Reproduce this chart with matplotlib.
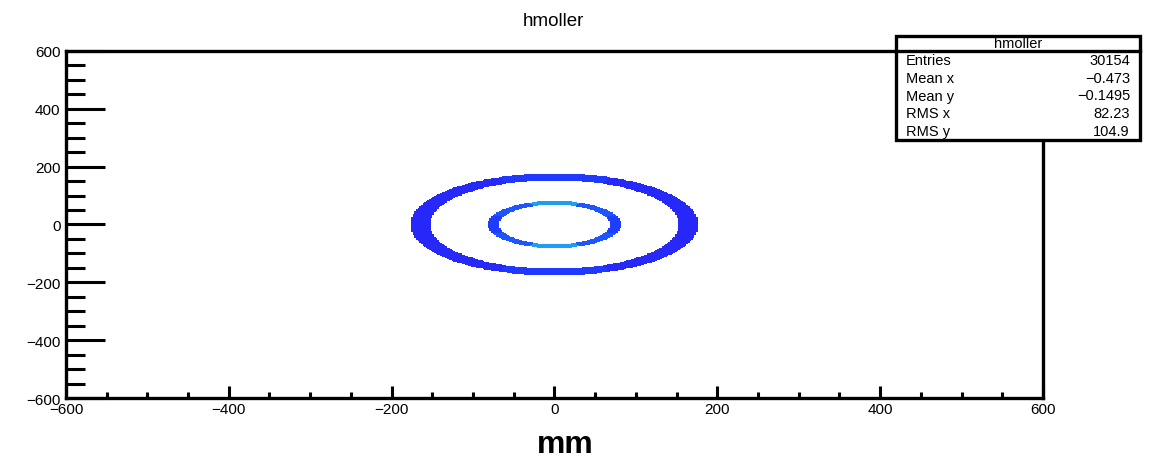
"""
hmoller: 2D hit map of moller electrons at the detector plane (ROOT colz style)
"""
import numpy as np
import matplotlib
matplotlib.use("Agg")
import matplotlib.pyplot as plt
from matplotlib.colors import LinearSegmentedColormap
from matplotlib.ticker import MultipleLocator

plt.rcParams['font.family'] = ['Liberation Sans', 'DejaVu Sans']

# histogram binning (mm)
x_range = [-600, 600]
y_range = [-600, 600]
n_bins = 600

# ring geometry (mm): inner ring, outer ring
ring_r_lo = [68, 153]
ring_r_hi = [82, 177]
ring_level = [1.6, 1.15]          # typical counts per bin

# angular weights per 45 deg sector, starting at +x, counter clockwise
sector_deg = [0, 45, 90, 135, 180, 225, 270, 315]
inner_sector_w = [1.0, 1.2, 1.75, 1.2, 1.0, 1.2, 1.75, 1.2]
outer_sector_w = [1.0, 1.05, 1.35, 1.05, 1.0, 1.05, 1.35, 1.05]

stat_names = ["Entries", "Mean x", "Mean y", "RMS x", "RMS y"]
stat_values = ["30154", "\u22120.473", "\u22120.1495", "82.23", "104.9"]

# root like rainbow palette
PALETTE = LinearSegmentedColormap.from_list(
    "root_rainbow",
    ["#3a14ee", "#2030ff", "#1c78ff", "#20c8e0", "#40e070", "#c8f020",
     "#ffc800", "#ff2000"])


def build_counts():
    """
    Fill the bin contents from the ring tables (lookup, no smoothing)
    :return: x edges, y edges, masked counts
    """
    xe = np.linspace(x_range[0], x_range[1], n_bins + 1)
    ye = np.linspace(y_range[0], y_range[1], n_bins + 1)
    xc = 0.5 * (xe[1:] + xe[:-1])
    yc = 0.5 * (ye[1:] + ye[:-1])
    X, Y = np.meshgrid(xc, yc)
    r = np.hypot(X, Y)
    phi = np.degrees(np.arctan2(Y, X)) % 360
    sector = np.round(phi / 45).astype(int) % len(sector_deg)

    counts = np.full(X.shape, np.nan)
    weights = [np.array(inner_sector_w), np.array(outer_sector_w)]
    for i in range(2):
        inside = (r >= ring_r_lo[i]) & (r <= ring_r_hi[i])
        counts[inside] = ring_level[i] * weights[i][sector[inside]]
    return xe, ye, np.ma.masked_invalid(counts)


def draw():
    fig = plt.figure(figsize=(11.49, 4.6), dpi=100)
    ax = fig.add_axes([0.0574, 0.1326, 0.8503, 0.7544])

    xe, ye, counts = build_counts()
    ax.pcolormesh(xe, ye, counts, cmap=PALETTE, vmin=0.5, vmax=7,
                  shading='flat', rasterized=True)

    ax.set_xlim(x_range)
    ax.set_ylim(y_range)

    for s in ax.spines.values():
        s.set_linewidth(2.4)

    ax.xaxis.set_major_locator(MultipleLocator(200))
    ax.xaxis.set_minor_locator(MultipleLocator(50))
    ax.yaxis.set_major_locator(MultipleLocator(200))
    ax.yaxis.set_minor_locator(MultipleLocator(50))
    ax.tick_params(axis='x', which='major', direction='in', length=9,
                   width=2.2, labelsize=11, pad=3)
    ax.tick_params(axis='x', which='minor', direction='in', length=4.5,
                   width=2.2)
    ax.tick_params(axis='y', which='major', direction='in', length=28,
                   width=2.2, labelsize=11, pad=4)
    ax.tick_params(axis='y', which='minor', direction='in', length=14,
                   width=2.2)

    # axis title and histogram title
    fig.text(565 / 1149, 1 - 445 / 460, "mm", ha='center', va='center',
             fontsize=23, fontweight='bold')
    fig.text(0.4813, 0.953, "hmoller", ha='center', va='center', fontsize=13.5)

    # stats box
    bx0, bx1 = 896 / 1149, 1140 / 1149
    by0, by1 = 1 - 141 / 460, 1 - 37 / 460
    hdr = 1 - 52 / 460
    fig.patches.append(plt.Rectangle((bx0, by0), bx1 - bx0, by1 - by0,
                                     transform=fig.transFigure,
                                     facecolor='white', edgecolor='black',
                                     linewidth=2.4, zorder=5))
    fig.lines.append(plt.Line2D([bx0, bx1], [hdr, hdr],
                                transform=fig.transFigure, color='black',
                                linewidth=2.4, zorder=6))
    fig.text(0.5 * (bx0 + bx1), 0.5 * (by1 + hdr), "hmoller", ha='center',
             va='center', fontsize=10.5, zorder=7)
    row_h = (hdr - by0) / len(stat_names)
    for i, (name, val) in enumerate(zip(stat_names, stat_values)):
        yy = hdr - (i + 0.5) * row_h
        fig.text(bx0 + 10 / 1149, yy, name, ha='left', va='center',
                 fontsize=10.5, zorder=7)
        fig.text(bx1 - 10 / 1149, yy, val, ha='right', va='center',
                 fontsize=10.5, zorder=7)

    fig.savefig("out.png", dpi=100)


if __name__ == "__main__":
    draw()
